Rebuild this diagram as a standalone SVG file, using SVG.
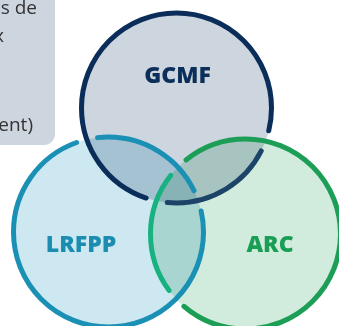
<svg xmlns="http://www.w3.org/2000/svg" width="339" height="326" viewBox="0 0 339 326">
<style>
.fill{mix-blend-mode:multiply}
.lbl{font-family:"Open Sans","Noto Sans",sans-serif;font-weight:800;font-size:23px;text-anchor:middle}
.ring{fill:none;stroke-width:5;stroke-linecap:round}
.note{font-family:"Open Sans","Noto Sans",sans-serif;font-size:19px;fill:#333;text-anchor:end}
</style>
<rect width="339" height="326" fill="#fff"/>
<g id="note">
<rect x="-20" y="-20" width="75" height="165" rx="11" fill="#cdd5df"/>
<text class="note" x="37" y="13.5">s de</text>
<text class="note" x="4" y="42">x</text>
<text class="note" x="33" y="131">ent)</text>
</g>
<g id="gcmf">
<circle class="fill" cx="176.5" cy="108" r="95" fill="#cdd5df"/>
<text class="lbl" x="177.5" y="83" fill="#0c2f5a">GCMF</text>
</g>
<g id="lrfpp">
<circle class="fill" cx="108.5" cy="232" r="95" fill="#cde8f0"/>
<text class="lbl" x="81" y="252" fill="#1a8db0">LRFPP</text>
</g>
<g id="arc">
<circle class="fill" cx="245.5" cy="234" r="95" fill="#d1ebdd"/>
<text class="lbl" x="270" y="252" fill="#1a9d55">ARC</text>
</g>
<g id="outlines">
<circle class="ring" cx="176.5" cy="108" r="95" pathLength="360" stroke="#0b2d5a" stroke-dasharray="265.23 94.77" stroke-dashoffset="-108.68"/>
<circle class="ring" cx="176.5" cy="108" r="95" pathLength="360" stroke="#1c4468" stroke-dasharray="68.77 291.23" stroke-dashoffset="-26.91"/>
<circle class="ring" cx="108.5" cy="232" r="95" pathLength="360" stroke="#1a90b5" stroke-dasharray="263.2 96.8" stroke-dashoffset="-347.14"/>
<circle class="ring" cx="108.5" cy="232" r="95" pathLength="360" stroke="#1a90b5" stroke-dasharray="70.8 289.2" stroke-dashoffset="-263.34"/>
<circle class="ring" cx="245.5" cy="234" r="95" pathLength="360" stroke="#1c9e57" stroke-dasharray="259.29 100.71" stroke-dashoffset="-231.19"/>
<circle class="ring" cx="245.5" cy="234" r="95" pathLength="360" stroke="#17b27f" stroke-dasharray="74.71 285.29" stroke-dashoffset="-143.48"/>
</g>
</svg>
